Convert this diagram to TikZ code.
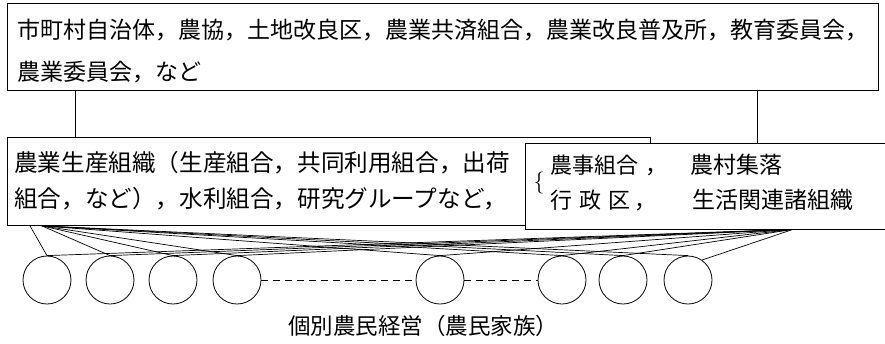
\documentclass[tikz,border=0pt]{standalone}
\usepackage{fontspec}
\newfontfamily\jp{Noto Sans CJK JP}
\begin{document}
\begin{tikzpicture}[x=1pt,y=-1pt,
  box/.style={draw, line width=0.9pt, inner sep=0, anchor=north west},
  txt/.style={anchor=west, inner sep=0, font=\jp\fontsize{23}{23}\selectfont},
  farm/.style={circle, draw, line width=0.8pt, minimum size=48pt, inner sep=0},
  link/.style={line width=0.7pt},
  gap/.style={line width=0.8pt, dash pattern=on 7pt off 5pt},
  stem/.style={line width=0.9pt}]
\useasboundingbox (0,0) rectangle (885,343);
\fill[white] (0,0) rectangle (885,343);

% top box
\node[box, minimum width=871pt, minimum height=87pt] (top) at (7,3) {};
\node[txt] (t1) at (17,30) {市町村自治体，農協，土地改良区，農業共済組合，農業改良普及所，教育委員会，};
\node[txt] (t2) at (17,72) {農業委員会，など};

% left box
\node[box, minimum width=643pt, minimum height=88pt] (lbox) at (7,137) {};
\node[txt, font=\jp\fontsize{23.6}{23.6}\selectfont] (l1) at (14,163) {農業生産組織（生産組合，共同利用組合，出荷};
\node[txt, font=\jp\fontsize{23.6}{23.6}\selectfont] (l2) at (14,199) {組合，など），水利組合，研究グループなど，};

% right box (open to the right edge)
\node[fill=white, inner sep=0, anchor=north west, minimum width=362pt, minimum height=86pt] (rbox) at (525,143) {};
\draw[line width=0.9pt] (rbox.north east) -- (rbox.north west) -- (rbox.south west) -- (rbox.south east);
\node[anchor=center, inner sep=0, font=\fontsize{22}{22}\selectfont] (br) at (539,183) {\{};
\node[txt, font=\jp\fontsize{22}{22}\selectfont] (r1) at (550,165) {農事組合\hspace{7pt}，};
\node[txt, font=\jp\fontsize{22}{22}\selectfont] (r2) at (550,200) {行\hspace{7pt}政\hspace{7pt}区\hspace{4pt}，};
\node[txt, font=\jp\fontsize{23}{23}\selectfont] (r3) at (690,165) {農村集落};
\node[txt, font=\jp\fontsize{23}{23}\selectfont] (r4) at (692,200) {生活関連諸組織};

% stems from top box
\draw[stem] ([xshift=68pt]top.south west) -- ([xshift=68pt]top.south west |- lbox.north);
\draw[stem] ([xshift=750pt]top.south west) -- ([xshift=750pt]top.south west |- rbox.north);

% farms
\node[farm] (c1) at (47,280) {};
\node[farm] (c2) at (110,280) {};
\node[farm] (c3) at (173,280) {};
\node[farm] (c4) at (237,280) {};
\node[farm] (c5) at (440,280) {};
\node[farm] (c6) at (562,280) {};
\node[farm] (c7) at (623,280) {};
\node[farm] (c8) at (688,280) {};

\draw[gap] (c4.east) -- (c5.west);
\draw[gap] (c5.east) -- (c6.west);

% link origins
\coordinate (L1) at ([xshift=23pt]lbox.south west);
\coordinate (L2) at ([xshift=35pt]lbox.south west);
\coordinate (R) at ([xshift=268pt]rbox.south west);

\draw[link] (L1) -- (c1.north);
\foreach \k in {2,...,8} {\draw[link] (L2) -- (c\k.north);}
\foreach \k in {1,...,7} {\draw[link] (R) -- (c\k.north);}
\draw[link] (R) -- (c8.55);

\node[anchor=center, inner sep=0, font=\jp\fontsize{22.5}{22.5}\selectfont] (lab) at (423,326) {個別農民経営（農民家族）};
\end{tikzpicture}
\end{document}
